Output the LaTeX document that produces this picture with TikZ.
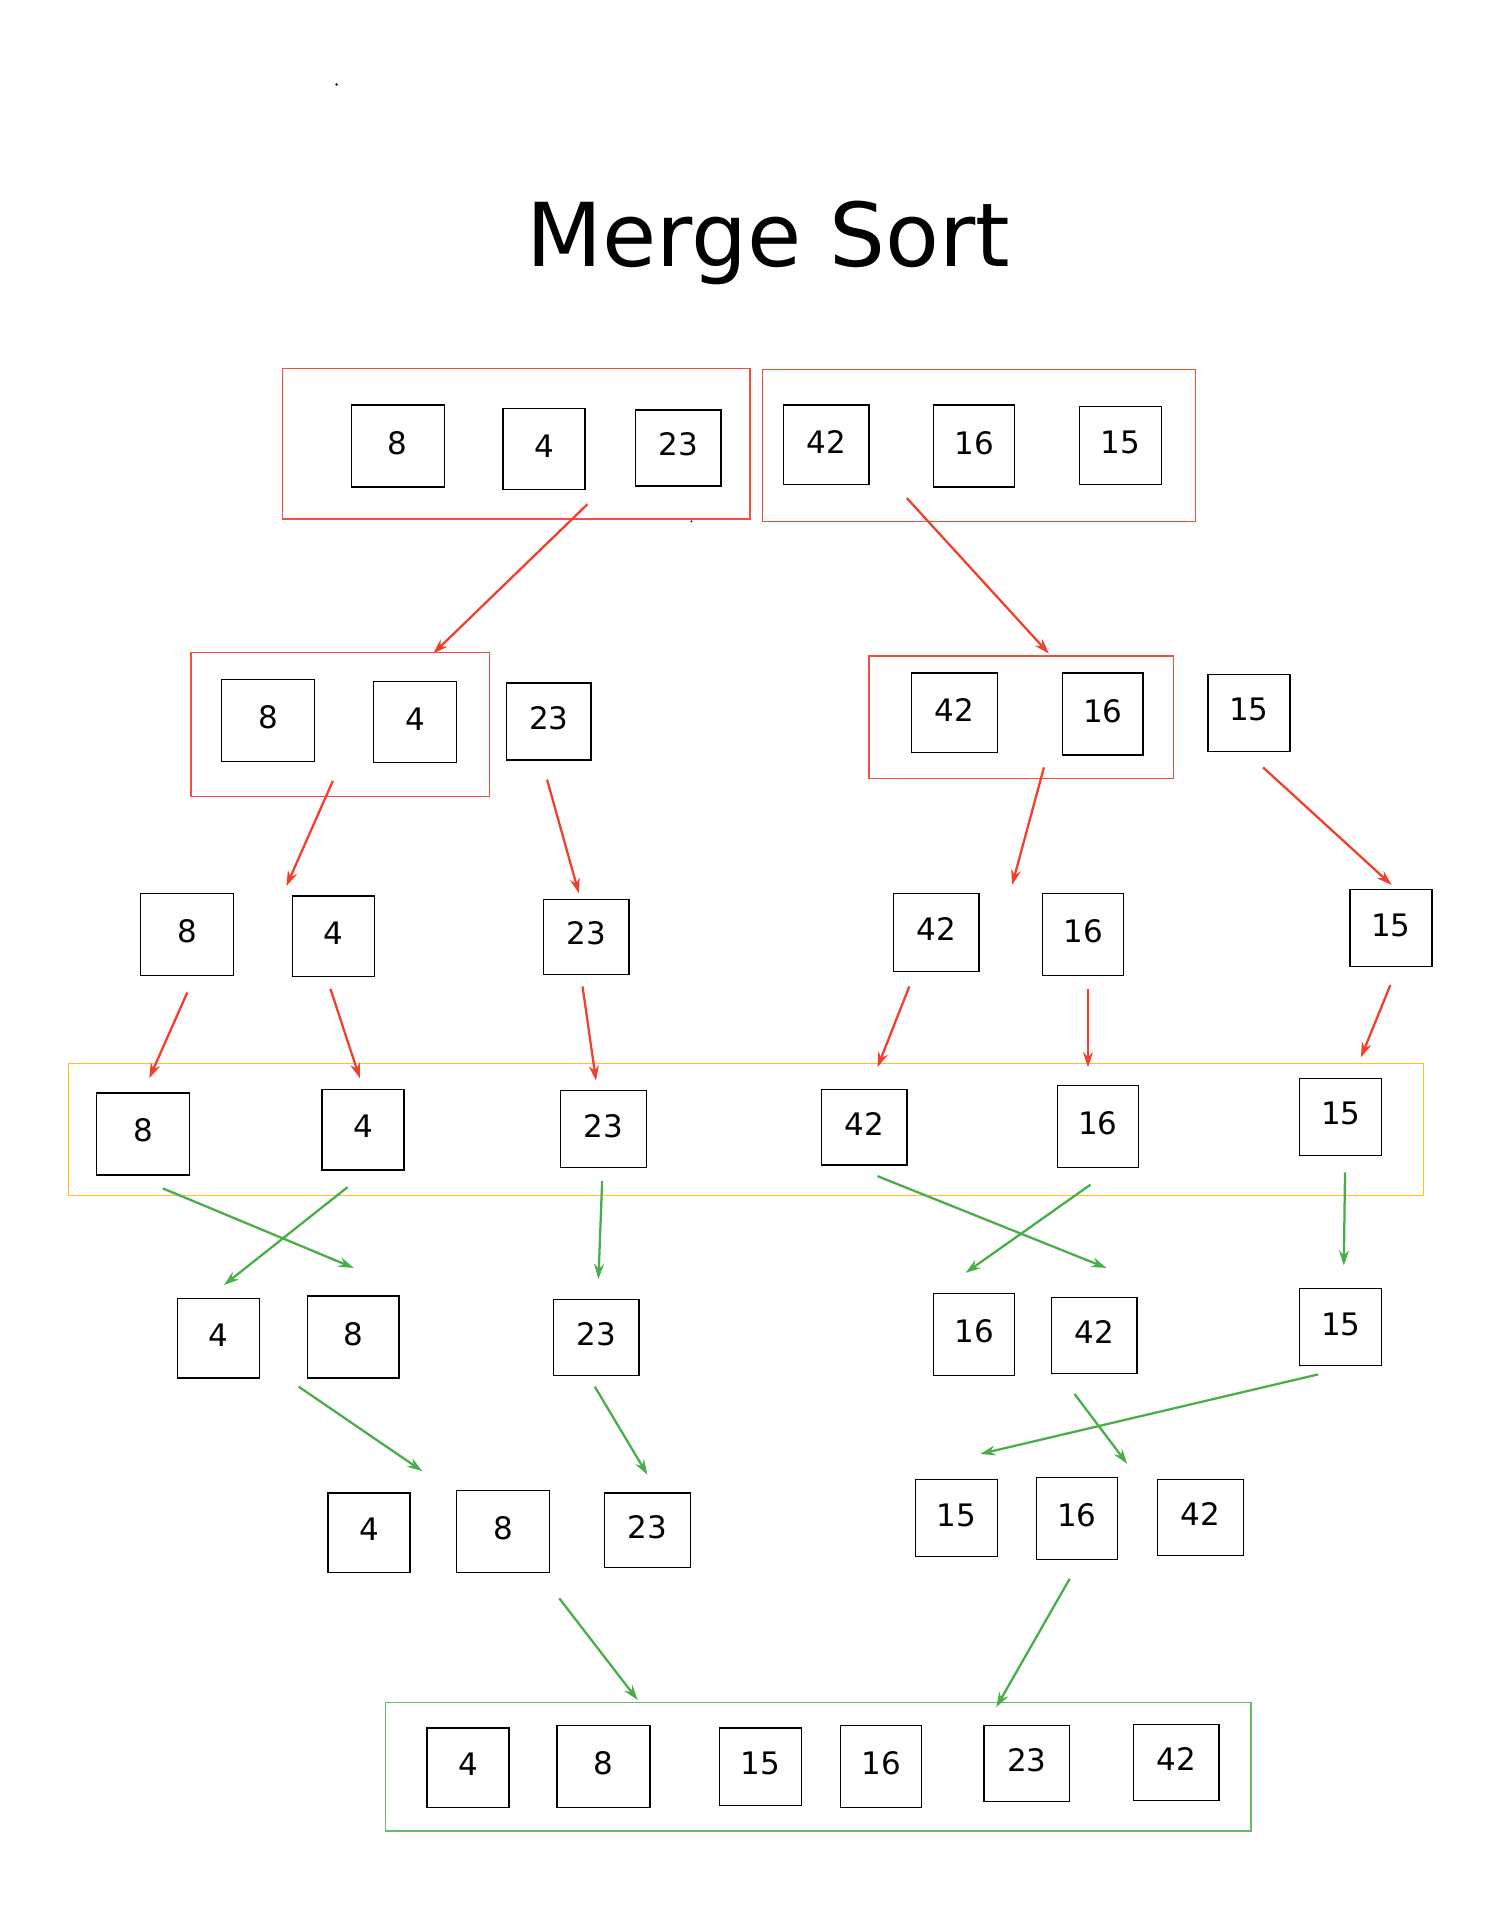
\documentclass[tikz,border=0pt]{standalone}
\usepackage{fontspec}
\setmainfont{DejaVu Sans}
\usetikzlibrary{arrows.meta,fit}
\definecolor{redc}{HTML}{F23E2A}
\definecolor{framered}{HTML}{F4503E}
\definecolor{greenc}{HTML}{48AE48}
\definecolor{framegreen}{HTML}{66BB6A}
\definecolor{yellowc}{HTML}{FFC21A}
\tikzset{
  numbox/.style={draw=black, line width=0.6pt, inner sep=0pt},
  redframe/.style={draw=framered, line width=0.7pt, inner sep=0pt},
  yellowframe/.style={draw=yellowc, line width=0.7pt, inner sep=0pt},
  greenframe/.style={draw=framegreen, line width=0.7pt, inner sep=0pt},
  redarrow/.style={draw=redc, line width=1.05pt, -{Stealth[length=7pt,width=4.6pt]}},
  greenarrow/.style={draw=greenc, line width=1.05pt, -{Stealth[length=7pt,width=4.6pt]}},
}
\newcommand\bx[6]{\node[numbox, fit={(#2,#3) (#4,#5)}] (#1) {};
  \node[font=\fontsize{14.4}{17}\selectfont, inner sep=0pt, yshift=1.5pt] (#1t) at (#1.center) {#6};}
\begin{document}
\begin{tikzpicture}[x=0.02cm, y=-0.02cm]
\useasboundingbox (0,0) rectangle (1226,1568);
\fill[white] (0,0) rectangle (1226,1568);
% stray dots
\fill (275,69) circle (1.1);
\fill (565,426) circle (0.9);
% title
\node[anchor=base, inner sep=0pt, font=\fontsize{41}{48}\selectfont] (title) at (628,218) {Merge Sort};

% ---------- row 1 ----------
\node[redframe, fit={(231,301) (613,424)}] (g1) {};
\node[redframe, fit={(623,302) (977,426)}] (g2) {};
\bx{a8}{287}{331}{363}{398}{8}
\bx{a4}{411}{334}{478}{400}{4}
\bx{a23}{519}{335}{589}{397}{23}
\bx{a42}{640}{331}{710}{396}{42}
\bx{a16}{763}{331}{829}{398}{16}
\bx{a15}{882}{332}{949}{396}{15}

% ---------- row 2 ----------
\node[redframe, fit={(156,533) (400,651)}] (g3) {};
\node[redframe, fit={(710,536) (959,636)}] (g4) {};
\bx{b8}{181}{555}{257}{622}{8}
\bx{b4}{305}{557}{373}{623}{4}
\bx{b23}{414}{558}{483}{621}{23}
\bx{b42}{745}{550}{815}{615}{42}
\bx{b16}{868}{550}{934}{617}{16}
\bx{b15}{987}{551}{1054}{614}{15}

% ---------- row 3 ----------
\bx{c8}{115}{730}{191}{797}{8}
\bx{c4}{239}{732}{306}{798}{4}
\bx{c23}{444}{735}{514}{796}{23}
\bx{c42}{730}{730}{800}{794}{42}
\bx{c16}{852}{730}{918}{797}{16}
\bx{c15}{1103}{727}{1170}{790}{15}

% ---------- row 4 ----------
\node[yellowframe, fit={(56,869) (1163,977)}] (g5) {};
\bx{d8}{79}{893}{155}{960}{8}
\bx{d4}{263}{890}{330}{956}{4}
\bx{d23}{458}{891}{528}{954}{23}
\bx{d42}{671}{890}{741}{952}{42}
\bx{d16}{864}{887}{930}{954}{16}
\bx{d15}{1062}{881}{1129}{944}{15}

% ---------- row 5 ----------
\bx{e4}{145}{1061}{212}{1126}{4}
\bx{e8}{251}{1059}{326}{1126}{8}
\bx{e23}{452}{1062}{522}{1124}{23}
\bx{e16}{763}{1057}{829}{1124}{16}
\bx{e42}{859}{1060}{929}{1122}{42}
\bx{e15}{1062}{1053}{1129}{1116}{15}

% ---------- row 6 ----------
\bx{f4}{268}{1220}{335}{1285}{4}
\bx{f8}{373}{1218}{449}{1285}{8}
\bx{f23}{494}{1220}{564}{1281}{23}
\bx{f15}{748}{1209}{815}{1272}{15}
\bx{f16}{847}{1207}{913}{1274}{16}
\bx{f42}{946}{1209}{1016}{1271}{42}

% ---------- row 7 ----------
\node[greenframe, fit={(315,1391) (1022,1496)}] (g6) {};
\bx{h4}{349}{1412}{416}{1477}{4}
\bx{h8}{455}{1410}{531}{1477}{8}
\bx{h15}{588}{1412}{655}{1475}{15}
\bx{h16}{687}{1410}{753}{1477}{16}
\bx{h23}{804}{1410}{874}{1472}{23}
\bx{h42}{926}{1409}{996}{1471}{42}

% ---------- connector end points ----------
\coordinate (r1s) at (480,412);  \coordinate (r1e) at (354,534);
\coordinate (r2s) at (741,407);  \coordinate (r2e) at (857,534);
\coordinate (r3s) at (272,638);  \coordinate (r3e) at (234,724);
\coordinate (r4s) at (447,637);  \coordinate (r4e) at (473,730);
\coordinate (r5s) at (853,627);  \coordinate (r5e) at (827,723);
\coordinate (r6s) at (1032,627); \coordinate (r6e) at (1137,723);
\coordinate (r7s) at (153,811);  \coordinate (r7e) at (122,881);
\coordinate (r8s) at (270,808);  \coordinate (r8e) at (294,881);
\coordinate (r9s) at (476,806);  \coordinate (r9e) at (487,883);
\coordinate (r10s) at (743,806); \coordinate (r10e) at (717,872);
\coordinate (r11s) at (889,808); \coordinate (r11e) at (889,872);
\coordinate (r12s) at (1136,805); \coordinate (r12e) at (1112,864);

\coordinate (q1s) at (133,971);  \coordinate (q1e) at (289,1036);
\coordinate (q2s) at (284,970);  \coordinate (q2e) at (183,1050);
\coordinate (q3s) at (492,965);  \coordinate (q3e) at (489,1045);
\coordinate (q4s) at (717,961);  \coordinate (q4e) at (904,1036);
\coordinate (q5s) at (891,968);  \coordinate (q5e) at (789,1040);
\coordinate (q6s) at (1099,958); \coordinate (q6e) at (1098,1034);
\coordinate (q7s) at (244,1133); \coordinate (q7e) at (345,1202);
\coordinate (q8s) at (486,1133); \coordinate (q8e) at (529,1205);
\coordinate (q9s) at (878,1139); \coordinate (q9e) at (921,1196);
\coordinate (q10s) at (1077,1123); \coordinate (q10e) at (801,1188);
\coordinate (q11s) at (457,1306); \coordinate (q11e) at (521,1389);
\coordinate (q12s) at (874,1290); \coordinate (q12e) at (814,1395);

\foreach \i in {1,...,12} {\draw[redarrow] (r\i s) -- (r\i e);}
\foreach \i in {1,...,12} {\draw[greenarrow] (q\i s) -- (q\i e);}
\end{tikzpicture}
\end{document}
